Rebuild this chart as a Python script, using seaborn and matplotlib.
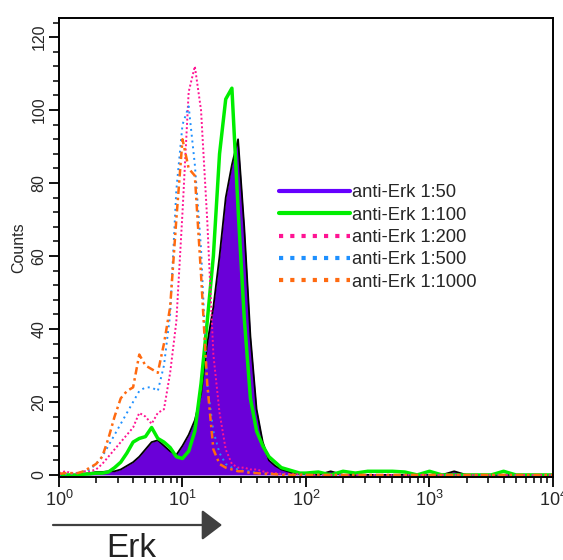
import numpy as np
import pandas as pd
import matplotlib
matplotlib.use("Agg")
import matplotlib.pyplot as plt
import seaborn as sns
from matplotlib.lines import Line2D

# channel positions (log10 of Erk fluorescence), fine near the peaks, coarse in the tail
log_fine = np.round(np.arange(0, 2.001, 0.05), 2)
log_tail = np.round(np.arange(2.1, 4.001, 0.1), 2)

labels = ["anti-Erk 1:50", "anti-Erk 1:100", "anti-Erk 1:200",
          "anti-Erk 1:500", "anti-Erk 1:1000"]

# counts, 0 .. 10^2
erk_50 = [0, 0, 0, 0, 0.3, 0.5, 0.8, 0.8, 1, 1, 1.5, 2.5, 3.5, 5, 7, 9, 9.5, 8, 6.5, 5.5,
          8, 11, 15, 22, 36, 46, 60, 76, 85, 92, 68, 38, 18, 9, 4, 2.5, 1.5, 1, 0.5, 0.3, 0.2]
erk_100 = [0, 0, 0, 0, 0.2, 0.3, 0.5, 0.5, 0.8, 2, 3.5, 6, 9, 10, 10.5, 13, 10, 9, 7.5, 5,
           4.5, 6.5, 12, 25, 42, 60, 88, 103, 106, 73, 43, 21, 12, 8, 5, 3.5, 2, 1.5, 1, 0.5, 0.5]
erk_200 = [0.5, 1, 0.5, 0.5, 1, 1, 1.5, 3, 5, 7, 9, 11, 13, 17, 16, 14, 17, 18, 28, 42,
           72, 105, 112, 100, 70, 33, 17, 7, 3, 2, 2, 1.5, 1.5, 1, 0.5, 0.5, 0.3, 0.3, 0.2, 0.2, 0]
erk_500 = [0, 0.2, 0.3, 0.5, 1, 1.5, 3, 5, 8, 11, 14, 17, 20, 23, 24, 24, 23, 30, 44, 78,
           96, 101, 85, 62, 25, 12, 6, 3, 2, 1.5, 1, 1, 0.5, 0.5, 0.3, 0.3, 0.2, 0, 0, 0, 0]
erk_1000 = [0.3, 0.5, 0.5, 0.5, 1, 2, 3, 5, 10, 16, 21, 23, 24, 33, 30, 29, 28, 36, 46, 70,
            92, 84, 82, 55, 25, 7, 3, 2, 1.5, 1, 1, 0.5, 0.5, 0.3, 0.3, 0.2, 0, 0, 0, 0, 0]

# sparse events above 10^2
tail_50 = [0, 1, 0, 0, 0, 0, 0, 0, 0, 0, 0, 1, 0, 0, 0, 0, 0, 0, 0, 0]
tail_100 = [0.8, 0, 1, 0.5, 1, 1, 1, 0.8, 0, 1, 0, 0, 0, 0, 0, 1, 0, 0, 0, 0]
tail_zero = [0] * 20

y_ticks = [0, 20, 40, 60, 80, 100, 120]

series = {
    labels[0]: erk_50 + tail_50,
    labels[1]: erk_100 + tail_100,
    labels[2]: erk_200 + tail_zero,
    labels[3]: erk_500 + tail_zero,
    labels[4]: erk_1000 + tail_zero,
}
fluor = 10 ** np.r_[log_fine, log_tail]
df = pd.concat([pd.DataFrame({"fluor": fluor, "count": v, "sample": k})
                for k, v in series.items()])

colors = {labels[0]: "#6a00d8", labels[1]: "#00ee00", labels[2]: "#ff1493",
          labels[3]: "#1e90ff", labels[4]: "#ff6a10"}
legend_colors = dict(colors, **{labels[0]: "#6600ff"})
dashes = {labels[2]: (1, 1.2), labels[3]: (1, 2), labels[4]: (3, 1.5, 1, 1.5)}
widths = {labels[1]: 2.5, labels[2]: 1.4, labels[3]: 1.4, labels[4]: 1.8}

sns.set_theme(style="ticks")
plt.rcParams["font.family"] = ["Liberation Sans", "DejaVu Sans"]
plt.rcParams["mathtext.default"] = "regular"

fig = plt.figure(figsize=(5.63, 5.60), dpi=100)
ax = fig.add_axes([0.1048, 0.148, 0.8774, 0.8196])

# filled 1:50 histogram with black outline
d50 = df[df["sample"] == labels[0]]
ax.fill_between(d50["fluor"], 0, d50["count"], color=colors[labels[0]], lw=0)
sns.lineplot(data=d50, x="fluor", y="count", color="black", lw=1.3, ax=ax)

for lab in labels[1:]:
    d = df[df["sample"] == lab]
    line = sns.lineplot(data=d, x="fluor", y="count", color=colors[lab],
                        lw=widths[lab], ax=ax).lines[-1]
    if lab in dashes:
        line.set_dashes(dashes[lab])

ax.set_xscale("log")
ax.set_xlim(1, 1e4)
ax.set_ylim(-0.6, 125.2)
ax.set_yticks(y_ticks)
ax.set_yticks(np.arange(0, 125, 4), minor=True)
ax.set_yticklabels([str(t) for t in y_ticks], rotation=90, va="center", fontsize=11.5)
ax.tick_params(axis="x", labelsize=13, pad=2)
ax.tick_params(axis="y", pad=2)
ax.tick_params(which="major", length=7, width=1.3, color="black")
ax.tick_params(which="minor", length=4, width=1.1, color="black")
for s in ax.spines.values():
    s.set_linewidth(1.4)
    s.set_color("black")
ax.set_xlabel("")
ax.set_ylabel("Counts", fontsize=11.5, labelpad=4)

handles = []
for lab in labels:
    if lab in dashes:
        handles.append(Line2D([], [], color=legend_colors[lab], lw=3, dashes=(1, 1.7)))
    else:
        handles.append(Line2D([], [], color=legend_colors[lab], lw=3))
ax.legend(handles, labels, loc="upper left", bbox_to_anchor=(0.445, 0.638),
          frameon=False, fontsize=13.2, handlelength=3.9, handletextpad=0.1,
          labelspacing=0.29, borderpad=0, borderaxespad=0)

# axis arrow and label below the plot
ax.annotate("", xy=(222 / 563, 1 - 525 / 560), xytext=(53 / 563, 1 - 525 / 560),
            xycoords="figure fraction", textcoords="figure fraction",
            arrowprops=dict(arrowstyle="-|>,head_length=1.25,head_width=0.95",
                            mutation_scale=10, color="#404040", lw=1.6,
                            shrinkA=0, shrinkB=0))
fig.text(131 / 563, 0.006, "Erk", ha="center", va="baseline", fontsize=24, color="#222222")

fig.savefig("out.png", dpi=100)
